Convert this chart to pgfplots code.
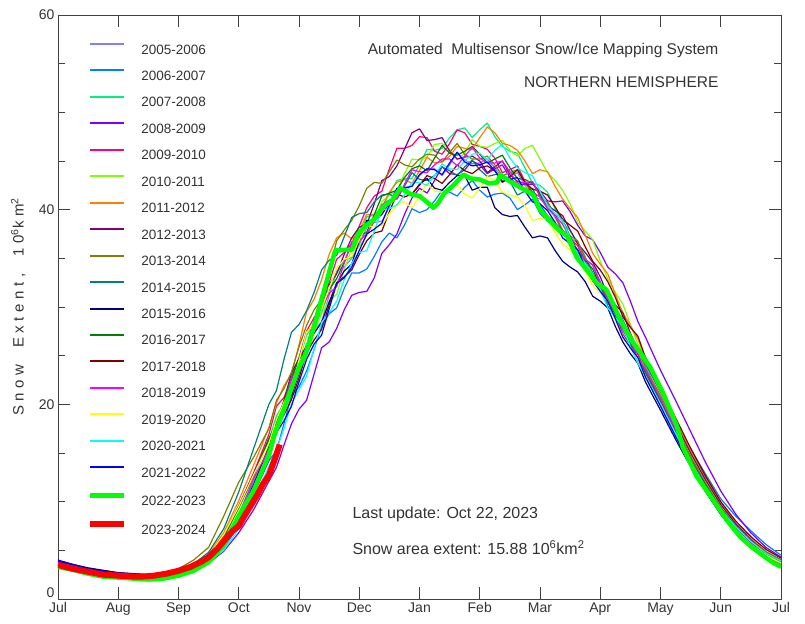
\documentclass[border=0pt]{standalone}
\usepackage{fontspec}
\setmainfont{Liberation Sans}
\usepackage{pgfplots}
\usepackage{pgfplotstable}
\pgfplotsset{compat=1.18}
\usetikzlibrary{calc}

\definecolor{txt}{HTML}{333333}
\definecolor{axl}{HTML}{404040}
\definecolor{c05}{HTML}{8080FF}
\definecolor{c06}{HTML}{0080FF}
\definecolor{c07}{HTML}{00F080}
\definecolor{c08}{HTML}{8000FF}
\definecolor{c09}{HTML}{FF0080}
\definecolor{c10}{HTML}{80FF00}
\definecolor{c11}{HTML}{FF8000}
\definecolor{c12}{HTML}{800080}
\definecolor{c13}{HTML}{808000}
\definecolor{c14}{HTML}{008080}
\definecolor{c15}{HTML}{000080}
\definecolor{c16}{HTML}{008000}
\definecolor{c17}{HTML}{800000}
\definecolor{c18}{HTML}{FF00FF}
\definecolor{c19}{HTML}{FFFF00}
\definecolor{c20}{HTML}{00FFFF}
\definecolor{c21}{HTML}{0000FF}
\definecolor{c22}{HTML}{00FF00}
\definecolor{c23}{HTML}{FF0000}

% x = months since 1 Jul, values in 10^6 km^2
\pgfplotstableread{
x s05 s06 s07 s08 s09 s10 s11 s12 s13 s14 s15 s16 s17 s18 s19 s20 s21
0 3.6 3.4 3.9 3.5 3.3 3.7 3.4 3.8 3.5 3.6 3.9 3.3 3.5 3.7 3.4 3.6 4.0
0.5 2.9 2.8 3.1 3.0 2.7 3.0 2.8 3.1 2.9 3.0 3.2 2.7 2.9 3.0 2.8 2.9 3.1
1 2.5 2.4 2.6 2.6 2.4 2.5 2.4 2.7 2.5 2.6 2.7 2.3 2.5 2.6 2.4 2.5 2.6
1.5 2.3 2.2 2.4 2.3 2.2 2.3 2.2 2.5 2.4 2.4 2.5 2.2 2.3 2.4 2.2 2.3 2.4
2.0 2.8 2.7 2.9 2.7 2.6 2.9 2.8 3.0 3.1 3.0 2.9 2.7 2.8 2.9 2.7 2.6 2.8
2.25 3.3 3.1 3.4 3.0 3.2 3.4 3.5 3.5 4.0 3.6 3.3 3.3 3.2 3.4 3.3 3.0 3.2
2.5 4.2 3.8 4.4 3.7 4.3 4.3 4.6 4.4 5.3 4.8 4.1 4.4 4.0 4.2 4.5 3.8 4.0
2.75 6.0 5.2 6.4 4.9 6.5 6.1 6.8 6.3 8.5 7.2 5.8 6.4 5.6 6.0 6.6 5.0 5.4
3.0 8.8 7.6 9.3 6.8 9.6 8.9 10.1 9.5 12.0 11.0 8.5 9.4 8.2 8.6 9.5 7.2 7.8
3.25 12.1 10.8 12.6 9.2 13.0 11.7 13.8 12.9 14.6 15.5 11.8 12.7 11.3 12.4 12.8 10.1 10.9
3.5 15.3 14.2 16.3 12.1 16.9 15.8 17.6 16.4 17.5 20.0 15.6 16.5 14.8 15.4 16.0 13.6 14.3
3.625 18.3 15.2 18.8 13.5 19.8 16.9 20.1 18.1 20.4 21.4 18.4 17.9 17.9 16.9 18.4 15.3 17.1
3.75 19.6 18.0 20.1 15.8 20.7 19.4 21.9 20.4 21.6 24.6 19.9 20.3 18.9 19.8 20.2 17.5 18.3
3.875 21.0 20.9 21.6 18.0 22.5 22.2 23.1 23.2 23.3 27.4 20.9 22.8 20.5 22.7 21.5 20.1 19.8
4.0 23.4 21.8 24.4 19.5 24.8 23.3 26.1 24.7 25.9 28.2 23.2 24.6 22.7 23.9 24.5 21.5 22.3
4.125 25.8 23.4 27.1 20.4 27.5 24.9 29.5 26.0 28.1 29.6 26.1 25.6 25.3 25.4 27.4 22.9 24.6
4.25 27.6 25.6 28.2 23.1 28.9 27.4 30.8 28.6 29.7 31.5 27.3 28.4 26.6 27.8 28.3 25.7 26.2
4.375 28.5 28.1 29.4 25.8 30.0 29.3 32.8 31.3 30.8 33.8 28.4 31.1 27.7 29.9 29.8 28.4 27.1
4.5 31.2 29.3 31.6 26.4 32.5 30.6 35.4 32.3 33.6 34.8 30.5 31.8 30.2 31.4 31.9 29.4 29.8
4.625 33.7 29.9 33.5 27.8 34.9 31.3 37.1 33.4 36.8 35.3 32.4 32.9 32.5 32.1 34.0 30.6 32.4
4.75 34.1 31.9 34.8 29.7 35.6 33.8 37.6 35.4 37.9 37.2 33.7 34.6 33.1 34.5 34.9 32.8 33.0
4.875 35.0 33.5 35.1 31.2 36.5 36.0 37.0 37.1 38.9 39.2 34.4 36.5 33.8 36.7 35.2 34.5 34.1
5.0 36.4 33.5 37.1 31.5 38.3 36.2 37.8 38.2 40.4 39.6 36.8 37.2 35.4 36.8 36.9 35.6 35.8
5.125 38.2 33.9 39.3 31.6 40.2 37.3 39.5 38.5 42.2 39.7 38.9 37.7 36.8 37.5 38.4 35.8 37.5
5.25 38.7 35.2 39.4 33.0 41.4 38.9 39.5 40.6 42.8 40.8 38.9 39.5 37.6 38.8 38.2 37.8 38.0
5.375 38.8 36.7 40.2 35.5 41.9 40.8 40.2 43.0 42.7 41.5 39.5 41.4 37.8 40.5 38.4 40.0 38.6
5.5 40.3 37.6 41.6 36.4 44.2 41.5 41.8 43.4 43.9 41.6 40.7 41.7 39.8 41.0 39.6 40.1 40.5
5.625 42.1 37.1 43.0 37.5 46.3 41.9 42.8 44.5 45.1 41.1 41.9 42.0 41.6 41.1 40.5 40.5 42.2
5.75 42.3 38.4 43.2 39.5 46.3 43.7 43.1 46.2 44.6 42.4 41.9 43.3 41.3 42.6 40.8 41.5 42.2
5.875 42.4 40.1 43.2 41.2 46.6 45.2 42.7 47.9 44.4 43.8 41.6 44.2 41.6 44.1 40.2 42.8 42.4
6.0 43.5 39.7 44.6 42.2 47.5 45.1 44.0 48.3 45.2 43.1 42.6 44.5 42.5 43.9 41.4 42.8 43.6
6.125 44.2 40.0 46.2 41.7 47.4 45.4 45.4 47.1 45.7 43.0 43.2 44.0 43.5 43.8 42.7 42.5 44.2
6.25 44.2 40.9 46.1 43.0 46.0 46.7 44.8 47.2 45.6 43.5 42.2 45.3 43.2 44.6 41.9 43.5 44.1
6.375 43.5 42.0 46.3 44.4 45.7 46.8 44.9 47.4 44.9 44.4 42.0 46.6 42.7 45.2 41.8 44.7 43.6
6.5 44.6 41.8 47.4 43.7 46.8 46.2 45.5 46.0 45.9 44.0 42.8 45.8 43.6 45.2 42.3 44.2 44.8
6.625 45.9 41.4 48.2 43.6 48.2 45.1 46.5 45.2 46.8 43.5 43.5 45.6 44.6 44.5 42.6 44.1 45.9
6.75 45.1 42.3 48.4 44.1 47.9 45.8 46.3 45.4 45.7 44.4 43.5 46.0 44.0 45.5 41.6 45.0 44.9
6.875 44.7 43.0 47.4 45.0 46.7 47.2 46.2 45.5 45.2 45.1 42.0 46.5 43.7 46.4 41.2 45.7 44.5
7.0 44.8 42.0 48.2 44.6 46.5 46.5 47.4 45.0 45.2 44.1 42.3 45.7 44.3 45.3 42.2 45.8 44.6
7.125 45.2 41.3 48.9 43.7 46.2 46.4 48.5 43.8 45.5 43.4 42.3 44.8 44.5 44.8 43.4 45.1 44.9
7.25 44.3 41.6 47.5 44.2 45.3 46.8 47.9 44.4 44.6 43.6 40.2 45.2 44.0 44.8 43.0 46.1 44.0
7.375 43.2 41.7 46.5 44.6 43.8 47.1 46.8 45.0 43.5 43.6 39.5 45.6 42.8 45.0 41.8 46.7 42.9
7.5 43.4 41.2 46.0 43.3 44.1 46.1 46.6 43.6 43.8 42.9 39.3 44.3 43.4 43.9 41.5 45.3 43.1
7.625 43.8 40.0 45.8 42.5 44.5 45.5 46.1 42.9 44.1 41.5 39.4 43.2 44.1 42.7 41.3 44.3 43.3
7.75 42.5 40.5 44.3 42.6 42.9 46.3 45.0 42.7 42.8 41.9 38.2 43.1 42.8 42.8 40.4 43.8 41.9
7.875 41.3 41.1 42.7 42.6 41.8 46.6 43.7 42.8 41.6 42.2 37.1 42.7 42.1 42.9 38.9 43.5 40.8
8.0 41.1 39.6 42.5 41.9 41.3 45.2 44.1 41.6 41.4 40.5 37.3 41.6 41.9 41.3 39.1 41.9 40.6
8.125 40.4 38.8 41.8 40.9 40.8 43.8 43.9 40.4 40.7 39.4 37.1 40.1 41.5 40.1 39.0 40.4 39.9
8.25 39.2 38.3 40.1 40.8 39.4 43.0 42.4 39.9 39.5 38.6 35.8 39.5 40.3 39.4 37.6 39.6 38.7
8.375 37.7 37.9 38.7 40.9 37.8 42.0 41.1 39.4 37.9 37.9 34.7 39.0 39.0 38.5 36.5 38.9 37.1
8.5 37.1 36.6 37.8 39.8 37.0 40.6 40.1 37.9 37.3 36.4 34.1 37.2 38.4 37.1 35.8 37.1 36.5
8.625 36.6 35.4 36.7 38.4 36.3 38.7 39.2 36.5 36.8 34.9 33.6 35.8 37.8 35.5 35.2 35.5 35.9
8.75 34.8 34.9 35.2 37.3 34.6 37.8 37.4 35.6 35.0 34.2 32.6 34.8 36.2 34.9 33.7 34.5 34.1
8.875 33.3 34.3 33.4 36.9 33.0 36.9 35.5 34.6 33.5 33.5 31.1 33.9 34.7 34.3 32.2 33.4 32.7
9.0 32.2 32.6 32.5 35.6 32.0 34.7 34.4 33.1 32.4 31.8 30.6 32.2 33.8 32.4 31.4 31.8 31.6
9.125 31.2 31.0 31.7 34.1 30.8 32.9 33.4 31.2 31.4 30.1 29.9 30.4 32.6 30.8 30.6 29.9 30.6
9.25 29.4 29.9 29.6 33.4 29.2 31.5 31.3 30.2 29.6 29.0 28.0 29.4 31.0 29.5 28.7 28.9 28.8
9.375 27.5 28.7 27.9 32.5 27.2 30.3 29.4 29.4 27.8 27.8 26.4 28.4 29.0 28.5 27.0 28.0 26.9
9.5 26.4 27.0 26.5 30.6 26.1 28.2 28.1 27.3 26.7 26.1 25.2 26.4 27.9 26.6 25.8 25.9 25.8
9.625 25.4 25.1 25.4 28.5 25.2 26.2 26.7 25.6 25.8 24.2 24.2 24.6 27.0 24.7 24.6 24.2 24.8
9.75 23.3 24.1 23.5 26.9 23.1 24.9 24.8 24.3 23.8 23.2 22.3 23.4 24.8 23.6 22.9 22.9 22.8
10.0 20.4 21.3 20.6 23.5 20.2 21.6 21.5 21.3 20.9 20.3 19.4 20.5 21.7 20.6 20.0 20.0 19.8
10.25 17.4 18.3 17.5 20.4 17.1 18.3 18.4 18.1 17.8 17.2 16.4 17.4 18.6 17.4 16.9 17.0 16.7
10.5 14.4 15.4 14.5 17.2 14.2 15.1 15.3 15.0 14.7 14.3 13.6 14.4 15.5 14.3 14.0 14.1 13.8
10.75 11.8 12.8 11.7 14.0 11.5 12.2 12.4 12.2 11.9 11.7 11.0 11.7 12.6 11.5 11.3 11.5 11.1
11.0 9.4 10.3 9.3 11.1 9.1 9.7 9.9 9.7 9.4 9.3 8.7 9.3 10.0 9.1 9.0 9.2 8.7
11.25 7.5 8.5 7.4 8.7 7.2 7.7 7.8 7.7 7.5 7.4 6.8 7.3 8.0 7.2 7.1 7.4 6.8
11.5 6.0 7.0 5.9 6.8 5.7 6.1 6.2 6.1 6.0 5.9 5.4 5.8 6.4 5.7 5.6 5.9 5.3
11.75 4.8 5.6 4.7 5.3 4.5 4.8 4.9 4.8 4.8 4.7 4.3 4.6 5.1 4.5 4.5 4.7 4.2
12.0 4.0 4.5 3.9 4.3 3.7 3.9 4.0 4.0 4.0 3.9 3.5 3.8 4.2 3.7 3.7 3.9 3.5
}\snowtab

\begin{document}
\begin{tikzpicture}
\begin{axis}[
  scale only axis, width=723bp, height=584bp,
  xmin=0, xmax=12, ymin=0, ymax=60,
  xtick={0,...,12},
  xticklabels={Jul,Aug,Sep,Oct,Nov,Dec,Jan,Feb,Mar,Apr,May,Jun,Jul},
  ytick={20,40,60},
  extra y ticks={0},
  extra y tick style={yticklabel style={yshift=6bp}},
  minor ytick={5,10,15,25,30,35,45,50,55},
  tick align=inside, major tick length=12bp, minor tick length=7bp,
  axis line style={line width=0.9bp, axl},
  tick style={line width=0.9bp, axl},
  ticklabel style={font=\fontsize{14bp}{16bp}\selectfont, text=txt},
  /pgf/number format/assume math mode=true,
  ylabel={Snow\ \ Extent,\ \ 10\textsuperscript{6}km\textsuperscript{2}},
  every axis y label/.style={at={(axis description cs:-0.055,0.5)}, rotate=90, anchor=center,
    font=\fontsize{15bp}{17bp}\selectfont\addfontfeature{LetterSpace=30}, text=txt},
  no markers,
  every axis plot/.append style={line width=1.2bp, line join=round},
  legend style={at={(axis description cs:0.040,0.952)}, anchor=north west,
    draw=none, fill=none, inner sep=0pt, outer sep=0pt, row sep=15.45bp,
    font=\fontsize{13.5bp}{15bp}\selectfont, text=txt,
    nodes={inner sep=0pt, text height=10bp, text depth=0pt}},
  legend cell align=left,
  legend image code/.code={\draw[#1, line width=2bp] (0bp,5bp) -- (34bp,5bp);},
  /tikz/every odd column/.append style={column sep=14bp},
]
\addplot[c05] table[x=x,y=s05] {\snowtab};
\addplot[c06] table[x=x,y=s06] {\snowtab};
\addplot[c07] table[x=x,y=s07] {\snowtab};
\addplot[c08] table[x=x,y=s08] {\snowtab};
\addplot[c09] table[x=x,y=s09] {\snowtab};
\addplot[c10] table[x=x,y=s10] {\snowtab};
\addplot[c11] table[x=x,y=s11] {\snowtab};
\addplot[c12] table[x=x,y=s12] {\snowtab};
\addplot[c13] table[x=x,y=s13] {\snowtab};
\addplot[c14] table[x=x,y=s14] {\snowtab};
\addplot[c15] table[x=x,y=s15] {\snowtab};
\addplot[c16] table[x=x,y=s16] {\snowtab};
\addplot[c17] table[x=x,y=s17] {\snowtab};
\addplot[c18] table[x=x,y=s18] {\snowtab};
\addplot[c19] table[x=x,y=s19] {\snowtab};
\addplot[c20] table[x=x,y=s20] {\snowtab};
\addplot[c21] table[x=x,y=s21] {\snowtab};
% 2022-2023
\addplot[c22, line width=4.5bp,
  legend image code/.code={\draw[c22, line width=5.5bp] (0bp,5bp) -- (34bp,5bp);}] coordinates {
(0,3.3) (0.25,3.0) (0.5,2.6) (0.75,2.3) (1,2.2) (1.25,2.1) (1.5,2.0) (1.75,2.1)
(2,2.4) (2.25,2.9) (2.5,3.8) (2.75,5.5) (3.0,8.5) (3.25,11.2) (3.5,14.8) (3.6,17.0)
(3.75,19.5) (4.0,23.8) (4.1,25.0) (4.25,28.0) (4.43,32.0) (4.6,35.8) (4.88,35.9)
(4.98,37.5) (5.1,38.3) (5.25,39.0) (5.4,40.3) (5.55,41.0) (5.68,42.2) (5.85,41.6)
(6.0,41.4) (6.12,40.8) (6.23,40.2) (6.3,40.6) (6.4,41.6) (6.56,42.5) (6.73,43.6)
(6.85,43.2) (7.0,43.1) (7.15,42.7) (7.29,42.8) (7.34,43.6) (7.5,42.9) (7.67,42.3)
(7.89,41.5) (8.0,40.0) (8.17,38.8) (8.33,37.8) (8.45,37.3) (8.61,35.1) (8.8,33.6)
(8.95,32.4) (9.1,31.8) (9.2,30.5) (9.33,28.7) (9.55,26.3) (9.7,25.0) (9.83,23.8)
(10.04,21.2) (10.27,17.8) (10.37,15.6) (10.6,12.6) (10.87,10.2) (11.1,8.1)
(11.32,6.4) (11.5,5.4) (11.65,4.7) (11.85,3.8) (12,3.3)
};
% 2023-2024
\addplot[c23, line width=6bp,
  legend image code/.code={\draw[c23, line width=6.5bp] (0bp,5bp) -- (34bp,5bp);}] coordinates {
(0,3.5) (0.25,3.1) (0.5,2.8) (0.75,2.5) (1,2.4) (1.25,2.3) (1.4,2.3) (1.6,2.4)
(1.8,2.6) (2,2.9) (2.2,3.3) (2.4,3.9) (2.5,4.3) (2.65,5.2) (2.8,6.3) (2.9,7.0)
(3.0,7.5) (3.1,8.6) (3.2,9.6) (3.3,10.6) (3.4,11.8) (3.5,12.7) (3.6,14.4) (3.68,15.88)
};
\legend{2005-2006,2006-2007,2007-2008,2008-2009,2009-2010,2010-2011,2011-2012,
  2012-2013,2013-2014,2014-2015,2015-2016,2016-2017,2017-2018,2018-2019,
  2019-2020,2020-2021,2021-2022,2022-2023,2023-2024}
\node[anchor=east, text=txt, font=\fontsize{15.5bp}{18bp}\selectfont]
  at (axis cs:11.02,56.4) {Automated\ \ Multisensor Snow/Ice Mapping System};
\node[anchor=east, text=txt, font=\fontsize{15.5bp}{18bp}\selectfont]
  at (axis cs:11.02,53.1) {NORTHERN HEMISPHERE};
\node[anchor=west, text=txt, font=\fontsize{16bp}{18bp}\selectfont]
  at (axis cs:4.83,8.7) {Last update: Oct 22, 2023};
\node[anchor=west, text=txt, font=\fontsize{16bp}{18bp}\selectfont]
  at (axis cs:4.83,5.3) {Snow area extent: 15.88 10\textsuperscript{6}km\textsuperscript{2}};
\end{axis}
\path ($(current axis.south west)+(-58bp,-25bp)$) rectangle ($(current axis.north east)+(24bp,15bp)$);
\end{tikzpicture}
\end{document}
